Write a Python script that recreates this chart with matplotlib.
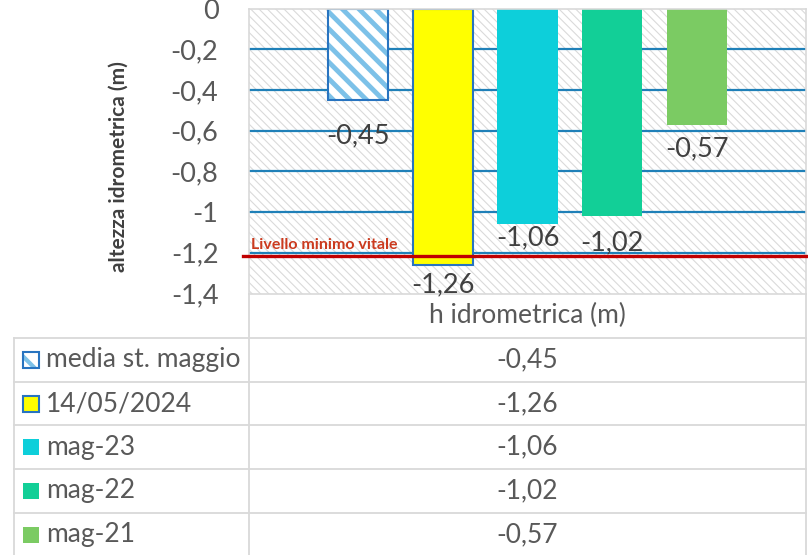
import matplotlib
matplotlib.use("Agg")
import matplotlib.pyplot as plt
from matplotlib.patches import Rectangle
import numpy as np

# data
series = ["media st. maggio", "14/05/2024", "mag-23", "mag-22", "mag-21"]
values = [-0.45, -1.26, -1.06, -1.02, -0.57]
value_labels = ["-0,45", "-1,26", "-1,06", "-1,02", "-0,57"]
yticks = [0, -0.2, -0.4, -0.6, -0.8, -1.0, -1.2, -1.4]
ytick_labels = ["0", "-0,2", "-0,4", "-0,6", "-0,8", "-1", "-1,2", "-1,4"]
min_level = -1.215
category = "h idrometrica (m)"

colors = ["white", "#FFFF00", "#0DCFDA", "#12CF97", "#7BCB63"]
edges = ["#2874C0", "#2874C0", None, None, None]
hatch_blue = "#7CC1E8"
grid_blue = "#1F80B8"
border = "#D9D9D9"
txt = "#595959"
lab_gap = [23, 7, 1, 14, 12]  # px between bar end and label top

plt.rcParams['font.family'] = ['Lato', 'DejaVu Sans']

W, H = 808, 555
fig = plt.figure(figsize=(W / 100, H / 100), dpi=100)

def fx(x):
    return x / W

def fy(y):
    return 1 - y / H

left, right, top, bottom = 249, 806, 8.6, 293.5
ax = fig.add_axes([fx(left), fy(bottom), fx(right - left), (bottom - top) / H])

x = np.arange(len(values))
ax.set_xlim(-1.286, len(values) - 1 + 1.286)
ax.set_ylim(-1.4, 0)

# hatched background
with plt.rc_context({'hatch.linewidth': 0.8}):
    bg = Rectangle((0, 0), 1, 1, transform=ax.transAxes, facecolor="white",
                   edgecolor="#DADADA", hatch="\\\\\\\\", linewidth=0, zorder=0)
    ax.add_patch(bg)

for t in yticks[1:-1]:
    ax.axhline(t, color=grid_blue, lw=1.6, zorder=1)

with plt.rc_context({'hatch.linewidth': 3.5}):
    for i in range(len(values)):
        if i == 0:
            ax.bar(x[i], values[i], width=0.71, color="white", edgecolor=hatch_blue,
                   hatch="\\\\", linewidth=0, zorder=2)
            ax.bar(x[i], values[i], width=0.71, fill=False, edgecolor=edges[i],
                   linewidth=1.5, zorder=2.1)
        elif edges[i]:
            ax.bar(x[i], values[i], width=0.71, color=colors[i], edgecolor=edges[i],
                   linewidth=1.5, zorder=2)
        else:
            ax.bar(x[i], values[i], width=0.71, color=colors[i], linewidth=0, zorder=2)

for i in range(len(values)):
    ax.annotate(value_labels[i], (x[i], values[i]), xytext=(0, -lab_gap[i] * 0.72),
                textcoords="offset points", ha="center", va="top",
                fontsize=19.5, color="#404040", zorder=4)

ax.axhline(min_level, xmin=-0.011, xmax=1.004, color="#C00000", lw=2.4,
           zorder=3, clip_on=False)
ax.text(0.004, min_level + 0.018, "Livello minimo vitale", transform=ax.get_yaxis_transform(),
        ha="left", va="bottom", fontsize=11.5, fontweight="bold", color="#CB3A1E", zorder=4)

ax.set_yticks(yticks)
ax.set_yticklabels(ytick_labels)
ax.set_xticks([])
ax.tick_params(axis="y", length=0, pad=22, labelsize=19.5, labelcolor=txt)
for s in ax.spines.values():
    s.set_color(border)
    s.set_linewidth(1.2)

fig.text(fx(119), fy(167), "altezza idrometrica (m)", rotation=90, ha="center",
         va="center", fontsize=15, fontweight="bold", color="#404040")

# data table
row_top = 338
row_h = 43.7
tbl_left = 14

def hline(y, x0, x1):
    fig.add_artist(plt.Line2D([fx(x0), fx(x1)], [fy(y), fy(y)], color=border, lw=1.3))

def vline(xp, y0, y1):
    fig.add_artist(plt.Line2D([fx(xp), fx(xp)], [fy(y0), fy(y1)], color=border, lw=1.3))

vline(left, bottom, H)
vline(right, bottom, H)
vline(tbl_left, row_top, H)
for r in range(len(series)):
    hline(row_top + r * row_h, tbl_left, right)

fig.text(fx((left + right) / 2), fy((bottom + row_top) / 2), category,
         ha="center", va="center", fontsize=19, color=txt)

for r, name in enumerate(series):
    yc = row_top + (r + 0.5) * row_h
    k = 16
    if r == 0:
        with plt.rc_context({'hatch.linewidth': 3}):
            fig.add_artist(Rectangle((fx(23), fy(yc + k / 2)), fx(k), k / H,
                                     transform=fig.transFigure, facecolor="white",
                                     edgecolor=hatch_blue, hatch="\\", linewidth=0))
        fig.add_artist(Rectangle((fx(23), fy(yc + k / 2)), fx(k), k / H,
                                 transform=fig.transFigure, fill=False,
                                 edgecolor=edges[r], linewidth=1.5))
    elif edges[r]:
        fig.add_artist(Rectangle((fx(23), fy(yc + k / 2)), fx(k), k / H,
                                 transform=fig.transFigure, facecolor=colors[r],
                                 edgecolor=edges[r], linewidth=1.5))
    else:
        fig.add_artist(Rectangle((fx(23), fy(yc + k / 2)), fx(k), k / H,
                                 transform=fig.transFigure, facecolor=colors[r],
                                 linewidth=0))
    fig.text(fx(46), fy(yc), name, ha="left", va="center", fontsize=19, color=txt)
    fig.text(fx((left + right) / 2), fy(yc), value_labels[r], ha="center",
             va="center", fontsize=19, color=txt)

fig.savefig("out.png", dpi=100)
